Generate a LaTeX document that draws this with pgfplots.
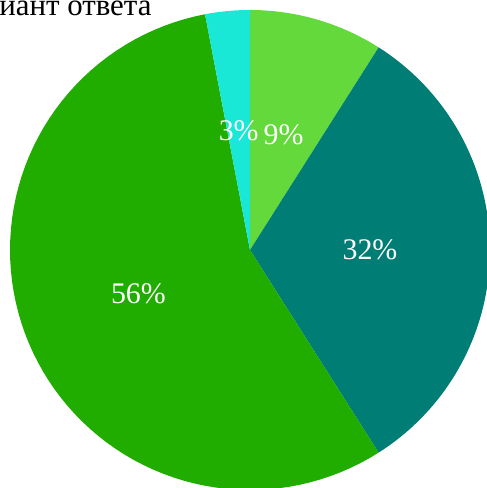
\documentclass[border=0pt]{standalone}
\usepackage{pgfplots}
\pgfplotsset{compat=1.18}
\usepackage{fontspec}
\setmainfont{Liberation Serif}

\definecolor{cA}{HTML}{63D93B}
\definecolor{cB}{HTML}{007D74}
\definecolor{cC}{HTML}{21AD00}
\definecolor{cD}{HTML}{1AE8D6}

% #1 share already drawn (%), #2 share of this slice (%), #3 colour
\newcommand\slice[3]{%
  \addplot[fill=#3, draw=none, domain={90-3.6*(#1+#2)}:{90-3.6*#1},
           samples=80, variable=\t]
    ({cos(t)},{sin(t)}) -- (axis cs:0,0) -- cycle;
  \node[text=white, font=\fontsize{30}{30}\selectfont]
    at (axis cs:{0.5*cos(90-3.6*(#1+#2/2))},{0.5*sin(90-3.6*(#1+#2/2))}) {#2\%};
}

\begin{document}
\begin{tikzpicture}
\useasboundingbox (0,0) rectangle (487bp,488bp);
\begin{axis}[
    at={(250bp,238bp)}, anchor=center,
    scale only axis, width=480bp, height=480bp,
    xmin=-1, xmax=1, ymin=-1, ymax=1,
    hide axis
]
\slice{0}{9}{cA}
\slice{9}{32}{cB}
\slice{41}{56}{cC}
\slice{97}{3}{cD}
\end{axis}
\node[anchor=base east, font=\fontsize{31}{31}\selectfont] at (155bp,472bp) {Вариант ответа};
\end{tikzpicture}
\end{document}
